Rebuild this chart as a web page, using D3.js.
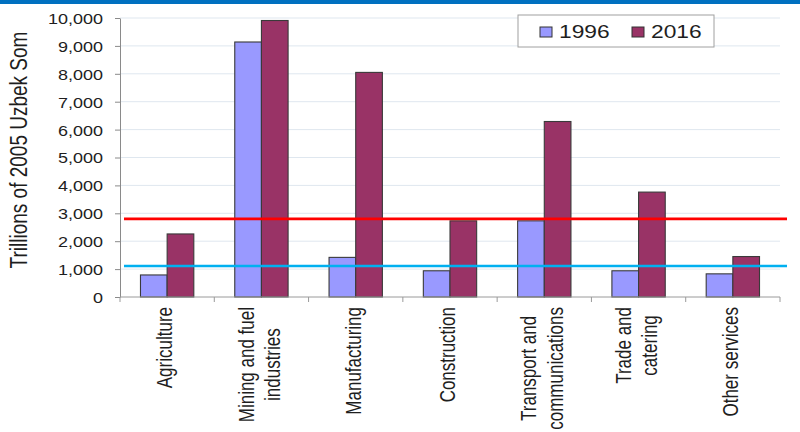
<!DOCTYPE html>
<html>
<head>
<meta charset="utf-8">
<script src="https://cdn.jsdelivr.net/npm/d3@7"></script>
<style>
  html, body { margin: 0; padding: 0; background: #fff; }
  svg { display: block; font-family: Arial, "Liberation Sans", sans-serif; }
</style>
</head>
<body>
<div id="chart"></div>
<script>
const W = 800;
const H = 432;

// values (trillions of 2005 Uzbek som)
const categories = [
  'Agriculture',
  'Mining and fuel industries',
  'Manufacturing',
  'Construction',
  'Transport and communications',
  'Trade and catering',
  'Other services'
];
const labelLines = [
  ['Agriculture'],
  ['Mining and fuel', 'industries'],
  ['Manufacturing'],
  ['Construction'],
  ['Transport and', 'communications'],
  ['Trade and', 'catering'],
  ['Other services']
];
const seriesNames = ['1996', '2016'];
const values1996 = [790, 9140, 1420, 940, 2730, 940, 830];
const values2016 = [2260, 9910, 8050, 2730, 6290, 3760, 1450];
const yTicks = [0, 1000, 2000, 3000, 4000, 5000, 6000, 7000, 8000, 9000, 10000];
const refLines = [
  { value: 2800, color: '#ff0000' },
  { value: 1110, color: '#00b0f0' }
];
const colors = ['#9999ff', '#993366'];

const m = { top: 18, right: 20, bottom: 135, left: 120 };
const FONT = 'Arial, "Liberation Sans", sans-serif';

const svg = d3.select('#chart').append('svg')
  .attr('width', W)
  .attr('height', H);

// blue band along the top edge
svg.append('rect')
  .attr('x', 0).attr('y', 0)
  .attr('width', W).attr('height', 4)
  .attr('fill', '#0070c0');

const x0 = d3.scaleBand()
  .domain(categories)
  .range([m.left, W - m.right])
  .padding(0);

const x1 = d3.scaleBand()
  .domain(seriesNames)
  .range([0, x0.bandwidth()])
  .paddingInner(0)
  .paddingOuter(0.768);

const y = d3.scaleLinear()
  .domain([0, 10000])
  .range([H - m.bottom, m.top]);

// gridlines
svg.append('g')
  .selectAll('line')
  .data(yTicks.filter(d => d > 0))
  .join('line')
  .attr('x1', m.left).attr('x2', W - m.right)
  .attr('y1', d => y(d)).attr('y2', d => y(d))
  .attr('stroke', '#dfe7ef')
  .attr('stroke-width', 1);

// bars
const rows = categories.map((c, i) => ({ cat: c, vals: [values1996[i], values2016[i]] }));
svg.append('g')
  .selectAll('g')
  .data(rows)
  .join('g')
  .attr('transform', d => `translate(${x0(d.cat)},0)`)
  .selectAll('rect')
  .data(d => d.vals.map((v, j) => ({ key: seriesNames[j], v, j })))
  .join('rect')
  .attr('x', d => x1(d.key))
  .attr('y', d => y(d.v))
  .attr('width', x1.bandwidth())
  .attr('height', d => y(0) - y(d.v))
  .attr('fill', d => colors[d.j])
  .attr('stroke', '#3a3a3a')
  .attr('stroke-width', 1.1);

// y axis
const yAxis = svg.append('g')
  .attr('transform', `translate(${m.left},0)`)
  .attr('font-size', 15)
  .attr('font-family', FONT)
  .call(d3.axisLeft(y).tickValues(yTicks).tickSize(5).tickSizeOuter(0).tickFormat(d3.format(',')));
yAxis.select('.domain').attr('stroke', '#8a8a8a');
yAxis.selectAll('.tick line').attr('stroke', '#8a8a8a');
const tickText = yAxis.selectAll('.tick text')
  .attr('fill', '#1e1e1e')
  .attr('font-size', 15)
  .attr('dy', '0.36em');
// the source labels are stretched sideways: widest label ("10,000") is ~55px wide
let widest = 0;
tickText.each(function() { widest = Math.max(widest, this.getComputedTextLength()); });
const tickScale = 55 / widest;
tickText
  .attr('x', -17 / tickScale)
  .attr('transform', `scale(${tickScale},1)`);

// x axis: baseline plus ticks at the category boundaries
const xAxis = svg.append('g');
xAxis.append('line')
  .attr('x1', m.left).attr('x2', W - m.right)
  .attr('y1', y(0)).attr('y2', y(0))
  .attr('stroke', '#9a9a9a');
const bounds = categories.map(c => x0(c)).concat([x0.range()[1]]);
xAxis.selectAll('.xt')
  .data(bounds)
  .join('line')
  .attr('class', 'xt')
  .attr('x1', d => d).attr('x2', d => d)
  .attr('y1', y(0)).attr('y2', y(0) + 5)
  .attr('stroke', '#9a9a9a');

// rotated category labels (glyphs a bit wider across, like the source image)
const labelTop = y(0) + 10;
const lineH = 20;
const labels = svg.append('g')
  .selectAll('g')
  .data(categories)
  .join('g')
  .attr('transform', d => `translate(${x0(d) + x0.bandwidth() / 2},${labelTop}) rotate(-90) scale(1,1.3)`);
labels.each(function(d, i) {
  const g = d3.select(this);
  const lines = labelLines[i];
  const texts = g.selectAll('text')
    .data(lines)
    .join('text')
    .attr('y', (t, k) => (k - (lines.length - 1) / 2) * lineH + 4)
    .attr('fill', '#1e1e1e')
    .attr('font-size', 17)
    .text(t => t);
  let maxLen = 0;
  texts.each(function() { maxLen = Math.max(maxLen, this.getComputedTextLength()); });
  texts.attr('x', -maxLen / 2).attr('text-anchor', 'middle');
});

// y axis title
svg.append('text')
  .attr('transform', `translate(27,150) rotate(-90) scale(1,1.25)`)
  .attr('text-anchor', 'middle')
  .attr('fill', '#1e1e1e')
  .attr('font-size', 19)
  .text('Trillions of 2005 Uzbek Som');

// horizontal reference lines, drawn over the bars
svg.append('g')
  .selectAll('line')
  .data(refLines)
  .join('line')
  .attr('x1', 124).attr('x2', 787)
  .attr('y1', d => y(d.value)).attr('y2', d => y(d.value))
  .attr('stroke', d => d.color)
  .attr('stroke-width', 2.6);

// legend
const lg = svg.append('g').attr('transform', 'translate(518,15)');
lg.append('rect')
  .attr('width', 196).attr('height', 32)
  .attr('fill', '#fff')
  .attr('stroke', '#a0a0a0');
const items = lg.selectAll('.item')
  .data(seriesNames)
  .join('g')
  .attr('class', 'item')
  .attr('transform', (d, i) => `translate(${22 + i * 92},0)`);
items.append('rect')
  .attr('y', 12).attr('width', 12).attr('height', 10)
  .attr('fill', (d, i) => colors[i])
  .attr('stroke', '#333');
items.append('text')
  .attr('x', 19 / 1.2).attr('y', 23.5)
  .attr('transform', 'scale(1.2,1)')
  .attr('fill', '#1e1e1e')
  .attr('font-size', 19)
  .text(d => d);
</script>
</body>
</html>
